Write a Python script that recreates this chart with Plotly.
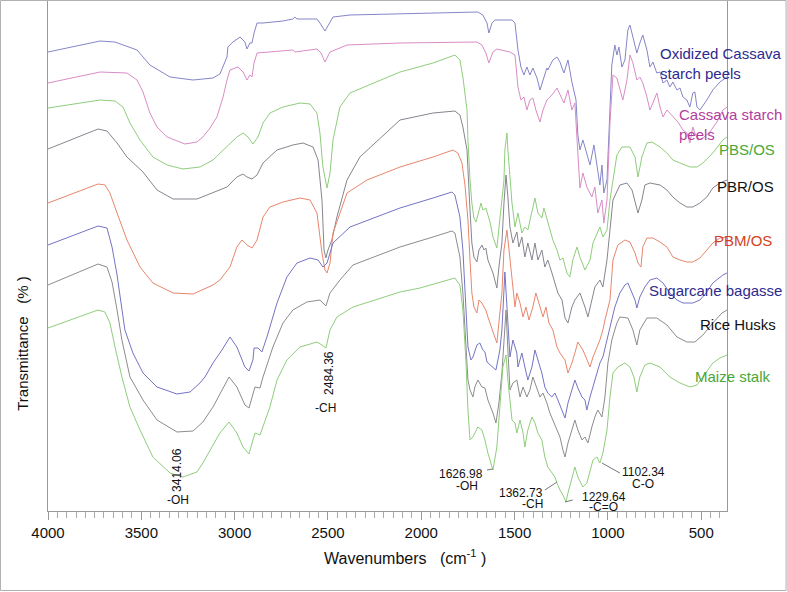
import plotly.graph_objects as go

# ---- data: wavenumber (cm-1) and transmittance (arbitrary, stacked) ----
ox_wn = [4000,3721,3641,3523,3454,3346,3223,3116,3079,3062,3041,3036,3009,2971,2945,2934,2918,2907,2896,2880,2848,2741,2688,2677,2666,2559,2543,2516,2489,2473,2382,2114,1846,1697,1670,1648,1638,1621,1605,1514,1498,1482,1466,1450,1434,1418,1402,1380,1364,1348,1327,1322,1295,1273,1257,1236,1214,1193,1171,1161,1150,1134,1118,1096,1075,1059,1043,1032,1022,1005,989,979,963,952,941,925,909,893,882,866,845,829,813,791,775,759,738,721,705,684,668,652,630,614,598,577,561,545,534,523,507,470,438,400,362]
ox_t = [459,470,469,461,446,434,431,433,437,444,454,464,469,474,469,462,468,468,478,488,488,490,492,494,492,492,488,480,489,494,496,497,498,499,496,488,478,488,491,491,488,461,444,436,444,436,443,433,421,431,443,441,451,454,449,438,451,429,411,376,361,371,361,346,366,346,326,346,318,331,401,446,466,456,464,444,451,481,486,474,458,468,476,461,444,449,438,439,428,431,424,429,421,423,414,411,404,418,419,404,401,411,421,429,434]

cs_wn = [4000,3721,3577,3523,3491,3454,3416,3362,3266,3202,3170,3132,3095,3062,3041,3025,2982,2955,2934,2918,2907,2896,2880,2827,2688,2677,2559,2537,2516,2489,2398,2114,1702,1675,1654,1638,1616,1595,1525,1498,1482,1466,1450,1434,1418,1402,1386,1364,1348,1327,1300,1273,1257,1236,1214,1193,1177,1161,1150,1134,1113,1086,1070,1054,1032,1022,1005,989,973,952,936,920,898,882,866,845,829,813,791,775,759,738,721,705,684,668,652,625,598,577,561,550,545,534,518,491,454,416,384,362]
cs_t = [428,439,438,431,419,398,384,374,367,369,374,383,394,414,431,441,444,439,431,436,434,448,458,459,461,459,462,458,449,459,466,468,469,466,458,448,459,462,459,456,424,411,414,401,411,413,401,389,401,411,416,423,416,408,421,401,408,361,323,338,324,314,324,298,311,288,311,388,436,433,421,411,431,456,448,431,434,428,414,401,408,418,404,394,401,398,394,389,381,378,368,378,384,378,371,373,379,389,401,404]

pbs_wn = [4000,3721,3641,3598,3561,3507,3438,3362,3277,3186,3116,3041,2988,2955,2928,2902,2875,2848,2811,2741,2650,2596,2559,2543,2527,2505,2489,2473,2436,2382,2114,1937,1820,1793,1777,1755,1750,1739,1729,1718,1707,1697,1680,1670,1654,1632,1616,1595,1584,1568,1557,1552,1541,1536,1525,1514,1498,1482,1461,1445,1429,1407,1391,1375,1354,1343,1327,1311,1295,1273,1257,1241,1220,1204,1188,1166,1150,1123,1096,1080,1059,1043,1027,1005,989,973,952,925,882,855,839,818,791,764,721,684,652,614,561,523,491,438,384,362]
pbs_t = [403,411,410,404,388,371,354,346,342,344,351,364,374,378,374,367,374,388,398,404,408,407,398,378,344,323,338,371,404,418,439,448,456,451,434,401,371,331,308,293,289,296,308,301,303,289,274,263,284,308,331,361,378,361,331,308,284,298,278,284,281,298,313,298,293,303,293,281,271,261,251,253,238,234,251,264,254,241,251,268,278,284,274,281,311,331,356,364,364,354,334,354,368,369,364,358,351,348,344,344,348,358,371,374]

pbr_wn = [4000,3732,3684,3630,3577,3491,3416,3330,3202,3148,3041,2988,2955,2934,2907,2880,2848,2773,2688,2634,2580,2553,2532,2521,2511,2500,2479,2452,2398,2329,2114,1937,1820,1793,1777,1755,1745,1739,1729,1718,1702,1691,1675,1664,1654,1643,1616,1595,1584,1568,1557,1546,1536,1525,1509,1488,1477,1461,1445,1429,1407,1391,1375,1354,1338,1322,1300,1284,1268,1246,1230,1214,1193,1177,1150,1123,1107,1086,1070,1043,1027,1005,989,973,936,898,871,855,839,818,802,775,721,684,652,614,577,545,507,470,438,400,362]
pbr_t = [362,382,380,368,354,339,321,312,312,316,324,334,337,334,332,336,348,361,366,368,364,351,311,261,253,261,271,294,331,354,391,398,400,396,384,361,331,301,268,254,249,261,266,261,263,251,238,223,244,268,308,336,314,284,268,279,264,274,254,268,251,268,251,261,244,251,238,228,218,211,193,188,204,211,218,204,194,211,224,231,224,251,284,311,326,328,321,308,298,311,326,328,326,321,314,308,304,304,308,314,323,328,331]

pbm_wn = [4000,3732,3695,3668,3630,3577,3507,3438,3330,3223,3116,3079,3025,2988,2961,2934,2907,2880,2848,2811,2741,2650,2596,2559,2532,2516,2505,2489,2473,2398,2291,2114,1937,1830,1804,1782,1766,1750,1739,1729,1718,1702,1691,1675,1664,1654,1643,1616,1595,1568,1557,1541,1530,1514,1498,1488,1471,1455,1439,1423,1402,1386,1370,1348,1332,1316,1295,1273,1257,1230,1214,1193,1177,1161,1134,1113,1096,1080,1059,1043,1027,1016,989,973,947,909,882,855,839,823,813,791,759,721,684,652,614,577,545,507,470,438,400,362]
pbm_t = [308,327,326,318,298,271,244,228,218,217,226,231,244,264,271,266,263,271,294,304,309,313,311,298,258,241,238,248,278,318,331,344,354,361,358,348,326,291,251,218,204,198,211,208,204,201,194,178,168,218,261,281,261,234,204,218,208,194,204,191,204,218,208,194,204,188,181,164,158,151,138,148,158,169,161,151,144,154,164,171,181,191,211,251,266,271,269,258,248,244,264,273,273,269,264,254,251,249,249,253,261,268,273,274]

sb_wn = [4000,3732,3684,3657,3630,3609,3588,3545,3491,3416,3309,3239,3186,3159,3116,3068,3025,2988,2945,2923,2902,2896,2875,2854,2827,2773,2720,2666,2596,2553,2527,2505,2473,2382,2114,1937,1836,1820,1793,1777,1766,1755,1750,1734,1723,1702,1686,1670,1659,1648,1621,1600,1579,1568,1552,1536,1525,1509,1488,1482,1461,1445,1429,1407,1391,1375,1354,1338,1322,1300,1284,1268,1246,1230,1214,1193,1177,1161,1139,1123,1113,1096,1080,1059,1043,1027,1005,989,963,936,909,893,871,855,845,829,802,775,738,705,668,630,598,545,507,470,438,400,384,362]
sb_t = [266,285,283,264,236,206,181,158,138,124,117,119,128,134,148,161,174,164,144,140,151,163,163,159,174,208,234,248,253,251,244,248,268,284,303,313,319,316,294,261,218,176,164,151,154,166,168,161,159,149,144,141,161,181,239,181,154,171,158,144,158,144,131,144,161,151,138,124,118,114,118,111,101,93,108,121,131,123,114,111,101,114,124,138,148,154,171,181,204,218,226,228,218,211,203,214,224,231,233,228,218,211,208,208,211,219,228,234,236,238]

rh_wn = [4000,3732,3684,3657,3630,3604,3561,3491,3416,3309,3223,3170,3116,3068,3030,2988,2945,2923,2902,2891,2864,2848,2795,2741,2688,2613,2543,2527,2511,2489,2436,2366,2114,1937,1836,1820,1793,1777,1761,1755,1750,1739,1723,1713,1697,1675,1659,1643,1616,1600,1584,1568,1557,1546,1536,1525,1509,1488,1471,1455,1434,1418,1402,1380,1364,1348,1327,1311,1295,1273,1257,1241,1230,1214,1193,1177,1161,1139,1123,1107,1086,1070,1054,1032,1016,1000,979,952,936,893,866,845,829,791,738,684,630,577,534,491,438,389,362]
rh_t = [226,247,244,229,201,171,134,111,91,79,80,89,104,121,134,124,106,103,118,124,123,134,164,188,201,209,211,208,205,218,231,246,264,274,280,278,254,218,171,156,131,121,114,124,131,124,123,111,98,88,108,138,171,201,161,121,128,131,114,124,114,121,134,123,114,118,108,98,91,81,74,61,54,68,81,91,81,71,74,68,84,94,101,94,114,148,171,188,194,193,181,166,181,193,193,186,174,169,169,176,188,198,201]

ms_wn = [4000,3732,3695,3668,3641,3604,3561,3507,3438,3346,3277,3202,3170,3132,3079,3030,2988,2955,2923,2902,2891,2864,2848,2811,2773,2720,2650,2559,2532,2511,2489,2452,2366,2114,2007,1820,1793,1777,1761,1750,1739,1723,1697,1675,1659,1643,1616,1595,1579,1563,1546,1536,1514,1498,1488,1471,1455,1445,1429,1407,1391,1375,1354,1338,1322,1300,1284,1273,1257,1241,1225,1214,1193,1177,1161,1134,1113,1096,1080,1059,1043,1027,1005,989,973,947,909,882,861,845,829,802,775,721,668,614,561,523,491,438,400,362]
ms_t = [183,201,199,188,164,134,104,81,54,38,34,39,48,61,78,89,78,64,57,71,78,76,84,104,131,151,164,169,166,163,181,194,204,219,223,233,226,201,151,101,71,74,84,81,71,58,41,64,104,144,156,131,91,88,78,91,78,64,81,94,88,78,71,54,44,38,34,28,21,16,9,18,34,44,34,24,28,41,51,54,48,58,81,114,138,144,148,144,134,119,134,146,148,144,134,128,124,126,134,148,153,156]

names = ["Oxidized Cassava starch peels", "Cassava starch peels", "PBS/OS", "PBR/OS",
         "PBM/OS", "Sugarcane bagasse", "Rice Husks", "Maize stalk"]
series_wn = [ox_wn, cs_wn, pbs_wn, pbr_wn, pbm_wn, sb_wn, rh_wn, ms_wn]
series_t = [ox_t, cs_t, pbs_t, pbr_t, pbm_t, sb_t, rh_t, ms_t]
line_colors = ["#8585c9", "#d98cc6", "#8fcd7c", "#85858f", "#e8866c", "#7474c4", "#8c8c8c", "#8fcd7c"]

# label texts and positions (wavenumber, transmittance)
label_texts = ["Oxidized Cassava<br>starch peels", "Cassava starch<br>peels", "PBS/OS", "PBR/OS",
               "PBM/OS", "Sugarcane bagasse", "Rice Husks", "Maize stalk"]
label_wn = [732, 630, 416, 427, 443, 790, 518, 545]
label_t = [448, 387, 362, 325, 271, 221, 187, 135]
label_colors = ["#2d2a8e", "#b23d9c", "#49a736", "#111111", "#d1421c", "#2d2a8e", "#111111", "#49a736"]

# peak annotations
peak_texts = ["3414.06", "-OH", "2484.36", "-CH", "1626.98", "-OH", "1362.73", "-CH",
              "1229.64", "-C=O", "1102.34", "C-O"]
peak_wn = [3309, 3304, 2495, 2511, 1788, 1755, 1466, 1402, 1022, 1022, 807, 813]
peak_t = [41, 11, 138, 103, 37, 25, 18, 7, 14, 4, 39, 27]
peak_angle = [-90, 0, -90, 0, 0, 0, 0, 0, 0, 0, 0, 0]
leader_wn = [(1648, 1616), (1338, 1273), (1230, 1188), (1032, 936)]
leader_t = [(41, 42), (21, 29), (9, 11), (48, 38)]

FONT = "Liberation Sans, Arial, sans-serif"

fig = go.Figure()
for nm, xs, ys, c in zip(names, series_wn, series_t, line_colors):
    fig.add_trace(go.Scatter(x=xs, y=ys, mode="lines", name=nm,
                             line=dict(color=c, width=1), showlegend=False))

annotations = []
for t, x, y, c in zip(label_texts, label_wn, label_t, label_colors):
    annotations.append(dict(x=x, y=y, xref="x", yref="y", text=t, showarrow=False,
                            xanchor="left", yanchor="middle", align="left",
                            font=dict(family=FONT, size=15, color=c)))
for t, x, y, a in zip(peak_texts, peak_wn, peak_t, peak_angle):
    annotations.append(dict(x=x, y=y, xref="x", yref="y", text=t, showarrow=False,
                            textangle=a, xanchor="center", yanchor="middle",
                            font=dict(family=FONT, size=12, color="#111111")))
annotations.append(dict(x=0.526, y=-0.09, xref="paper", yref="paper",
                        text="Wavenumbers   (cm<sup>-1</sup> )", showarrow=False,
                        xanchor="center", yanchor="middle",
                        font=dict(family=FONT, size=16, color="#111111")))
annotations.append(dict(x=-0.037, y=0.327, xref="paper", yref="paper",
                        text="Transmittance   (% )", showarrow=False, textangle=-90,
                        xanchor="center", yanchor="middle",
                        font=dict(family=FONT, size=15, color="#111111")))

shapes = []
for (x0, x1), (y0, y1) in zip(leader_wn, leader_t):
    shapes.append(dict(type="line", xref="x", yref="y", x0=x0, x1=x1, y0=y0, y1=y1,
                       line=dict(color="#777777", width=1)))
shapes.append(dict(type="rect", xref="paper", yref="paper", x0=-0.0700, x1=1.0870,
                   y0=-0.1556, y1=0.999, line=dict(color="#b0b0b0", width=1)))

fig.update_layout(
    width=787, height=592,
    margin=dict(l=48, r=60, t=0, b=81),
    paper_bgcolor="white", plot_bgcolor="white",
    annotations=annotations, shapes=shapes,
    xaxis=dict(range=[4000, 362], tick0=0, dtick=500, ticks="outside", ticklen=8,
               tickcolor="#999999", showline=True, linecolor="#999999", linewidth=1,
               showgrid=False, zeroline=False,
               tickfont=dict(family=FONT, size=15, color="#111111"),
               minor=dict(dtick=50, tick0=0, ticks="outside", ticklen=6,
                          tickcolor="#aaaaaa", showgrid=False)),
    yaxis=dict(range=[0, 511], showticklabels=False, ticks="", showline=True,
               mirror=True, linecolor="#999999", linewidth=1, showgrid=False,
               zeroline=False),
)

fig.write_html("out.html", config={"displayModeBar": False},
               post_script="document.body.style.margin='0';document.body.style.overflow='hidden';")
